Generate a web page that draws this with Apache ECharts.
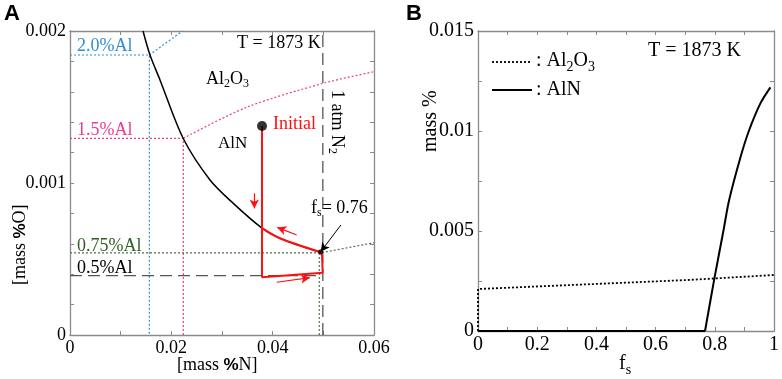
<!DOCTYPE html>
<html><head><meta charset="utf-8">
<script src="https://cdn.jsdelivr.net/npm/echarts@6/dist/echarts.min.js"></script>
<style>html,body{margin:0;padding:0;background:#fff}#c{width:782px;height:379px}</style>
</head><body><div id="c"></div>
<script>
// ---------- Panel A data ([mass %N], [mass %O]) ----------
const boundaryN = [0.01441, 0.01579, 0.01776, 0.0223, 0.02763, 0.03223, 0.0379, 0.04144, 0.04947];
const boundaryO = [0.0020, 0.001842, 0.001678, 0.001296, 0.00102, 0.000866, 0.000703, 0.000636, 0.000544];

const al20N = [0, 0.01566, 0.01566, null, 0.01566, 0.0222];
const al20O = [0.001842, 0.001842, 0, null, 0.001842, 0.0020];

const al15CurveN = [0.02237, 0.03485, 0.0500, 0.0600];
const al15CurveO = [0.001294, 0.001498, 0.001656, 0.001732];
const al15LinesN = [0, 0.02237, 0.02237];
const al15LinesO = [0.001294, 0.001294, 0];

const al075N = [0, 0.0494, 0.0600, null, 0.0492, 0.0492];
const al075O = [0.000540, 0.000540, 0.000607, null, 0.000540, 0];

const al05N = [0, 0.0498];
const al05O = [0.00039, 0.00039];

const n2N = [0.0499, 0.0499];
const n2O = [0, 0.002];

const pathN = [0.0379, 0.0379, 0.04987, 0.04975, 0.04947];
const pathO = [0.001375, 0.00038, 0.00041, 0.00052, 0.000544];
const pathCurveN = [0.0379, 0.04144, 0.04947];
const pathCurveO = [0.000703, 0.000636, 0.000544];

const initialPoint = [0.0379, 0.001375];
const fsPoint = [0.04947, 0.000548];

const xTicksA = [0, 0.06, 0.02];
const yTicksA = [0, 0.002, 0.001];

// ---------- Panel B data (fs, mass %) ----------
const fsAl2O3 = [0, 0, 0.709, 1.0];
const valAl2O3 = [0, 0.0021, 0.00255, 0.0028];
const fsAlNFlat = [0, 0.767];
const valAlNFlat = [0, 0];
const fsAlN = [0.767, 0.798, 0.829, 0.8485, 0.887, 0.915, 0.954, 0.988];
const valAlN = [0, 0.00258, 0.0050, 0.00655, 0.0087, 0.0100, 0.01138, 0.01218];

const xTicksB = [0, 1, 0.2];
const yTicksB = [0, 0.015, 0.005];

const zip = (a, b) => a.map((v, i) => (v === null ? null : [v, b[i]]));

const SERIF = 'Liberation Serif';
const GRAY = '#8a8a8a';
const BLUE = '#2f8fd0';
const PINK = '#ee3b8f';
const GREEN = '#2f5e22';
const RED = '#ff1010';

const fmt = v => String(+(+v).toFixed(5));

function axisPair(kind, ticks, fs, labels, minorSplit, grid) {
  return {
    type: 'value', gridIndex: grid, min: ticks[0], max: ticks[1], interval: ticks[2],
    position: kind === 'x' ? (labels ? 'bottom' : 'top') : (labels ? 'left' : 'right'),
    axisLine: { show: true, onZero: false, lineStyle: { color: GRAY, width: 1.3 } },
    axisTick: { show: true, inside: true, length: 4, lineStyle: { color: GRAY } },
    minorTick: { show: true, splitNumber: minorSplit, length: 4, lineStyle: { color: GRAY } },
    splitLine: { show: false },
    axisLabel: { show: labels, color: '#000', fontFamily: SERIF, fontSize: fs, margin: 4, formatter: fmt }
  };
}

const chart = echarts.init(document.getElementById('c'), null, { renderer: 'canvas' });

const dotted = (c, w) => ({ color: c, width: w || 1.2, type: [2, 2] });

const option = {
  animation: false,
  grid: [
    { left: 70, top: 31, width: 304, height: 304 },
    { left: 478, top: 31, width: 299, height: 300 }
  ],
  xAxis: [
    axisPair('x', xTicksA, 18, true, 2, 0),
    axisPair('x', xTicksA, 18, false, 2, 0),
    axisPair('x', xTicksB, 20, true, 2, 1),
    axisPair('x', xTicksB, 20, false, 2, 1)
  ],
  yAxis: [
    axisPair('y', yTicksA, 18, true, 5, 0),
    axisPair('y', yTicksA, 18, false, 5, 0),
    axisPair('y', yTicksB, 20, true, 2, 1),
    axisPair('y', yTicksB, 20, false, 2, 1)
  ],
  series: [
    { type: 'line', xAxisIndex: 0, yAxisIndex: 0, data: zip(al20N, al20O), showSymbol: false, lineStyle: dotted(BLUE), z: 2 },
    { type: 'line', xAxisIndex: 0, yAxisIndex: 0, data: zip(al15LinesN, al15LinesO), showSymbol: false, lineStyle: dotted(PINK), z: 2 },
    { type: 'line', xAxisIndex: 0, yAxisIndex: 0, data: zip(al15CurveN, al15CurveO), showSymbol: false, smooth: 0.3, lineStyle: dotted(PINK), z: 2 },
    { type: 'line', xAxisIndex: 0, yAxisIndex: 0, data: zip(al075N, al075O), showSymbol: false, lineStyle: dotted('#4f6f48'), z: 2 },
    { type: 'line', xAxisIndex: 0, yAxisIndex: 0, data: zip(al05N, al05O), showSymbol: false, lineStyle: { color: '#555', width: 1.3, type: [12, 6] }, z: 2 },
    { type: 'line', xAxisIndex: 0, yAxisIndex: 0, data: zip(n2N, n2O), showSymbol: false, lineStyle: { color: '#555', width: 1.3, type: [12, 6] }, z: 2 },
    { type: 'line', xAxisIndex: 0, yAxisIndex: 0, data: zip(boundaryN, boundaryO), showSymbol: false, smooth: 0.3, lineStyle: { color: '#000', width: 1.5 }, z: 3 },
    { type: 'line', xAxisIndex: 0, yAxisIndex: 0, data: zip(pathN, pathO), showSymbol: false, lineStyle: { color: RED, width: 2 }, z: 4 },
    { type: 'line', xAxisIndex: 0, yAxisIndex: 0, data: zip(pathCurveN, pathCurveO), showSymbol: false, smooth: 0.3, lineStyle: { color: RED, width: 2.2 }, z: 4,
      markLine: {
        silent: true, symbol: ['none', 'arrow'], symbolSize: [7, 9], label: { show: false },
        lineStyle: { color: RED, width: 1.2, type: 'solid' },
        data: [
          [{ coord: [0.03638, 0.000932] }, { coord: [0.03638, 0.000833] }],
          [{ coord: [0.04474, 0.000658] }, { coord: [0.04091, 0.000708] }],
          [{ coord: [0.04079, 0.000347] }, { coord: [0.04736, 0.000377] }],
          [{ coord: [0.05348, 0.000724], lineStyle: { color: '#000', width: 1 } }, { coord: fsPoint }]
        ]
      }
    },
    { type: 'scatter', xAxisIndex: 0, yAxisIndex: 0, data: [initialPoint], symbolSize: 10, itemStyle: { color: '#000' }, z: 5 },
    { type: 'scatter', xAxisIndex: 0, yAxisIndex: 0, data: [fsPoint], symbolSize: 5, itemStyle: { color: '#000' }, z: 5 },
    // Panel B
    { type: 'line', xAxisIndex: 2, yAxisIndex: 2, data: zip(fsAl2O3, valAl2O3), showSymbol: false, lineStyle: { color: '#000', width: 1.8, type: [2, 2] }, z: 3 },
    { type: 'line', xAxisIndex: 2, yAxisIndex: 2, data: zip(fsAlNFlat, valAlNFlat), showSymbol: false, lineStyle: { color: '#000', width: 2 }, z: 4 },
    { type: 'line', xAxisIndex: 2, yAxisIndex: 2, data: zip(fsAlN, valAlN), showSymbol: false, smooth: 0.3, lineStyle: { color: '#000', width: 2 }, z: 4 }
  ],
  graphic: []
};

function richStyle(fs) {
  return {
    n: { fontSize: fs, fontFamily: SERIF, fill: '#000', lineHeight: fs + 4, verticalAlign: 'top' },
    s: { fontSize: Math.round(fs * 0.68), fontFamily: SERIF, fill: '#000', lineHeight: fs + 4, verticalAlign: 'top', padding: [Math.round(fs * 0.47), 0, 0, 0] },
    b: { fontSize: fs - 1, fontFamily: 'Liberation Sans', fontWeight: 'bold', fill: '#000', lineHeight: fs + 4, verticalAlign: 'top', padding: [1, 0, 0, 0] }
  };
}
const t = (x, y, text, o) => Object.assign({ type: 'text', x: x, y: y, silent: true,
  style: Object.assign({ text: text, fontFamily: SERIF, fontSize: 18, fill: '#000' }, o || {}) });
const rt = (x, y, text, fs, rot) => ({ type: 'text', x: x, y: y, rotation: rot || 0, silent: true,
  style: { text: text, rich: richStyle(fs) } });

option.graphic = [
  t(4, 3, 'A', { fontFamily: 'Liberation Sans', fontWeight: 'bold', fontSize: 22 }),
  t(406, 3, 'B', { fontFamily: 'Liberation Sans', fontWeight: 'bold', fontSize: 22 }),
  t(237, 34, 'T = 1873 K'),
  rt(206, 70, '{n|Al}{s|2}{n|O}{s|3}', 18),
  t(218, 135, 'AlN', { fontSize: 17 }),
  t(273, 115, 'Initial', { fill: RED }),
  t(77, 37, '2.0%Al', { fill: BLUE }),
  t(77, 121, '1.5%Al', { fill: PINK }),
  t(77, 237, '0.75%Al', { fill: GREEN }),
  t(77, 259, '0.5%Al'),
  rt(346, 90, '{n|1 atm N}{s|2}', 18, -Math.PI / 2),
  rt(311, 199, '{n|f}{s|s}{n|= 0.76}', 18),
  rt(177, 356, '{n|[mass }{b|%}{n|N]}', 18),
  rt(11, 285, '{n|[mass }{b|%}{n|O]}', 18, Math.PI / 2),
  // Panel B texts
  { type: 'text', x: 421, y: 152, rotation: Math.PI / 2, silent: true, style: { text: 'mass %', fontFamily: SERIF, fontSize: 20, fill: '#000' } },
  rt(619, 354, '{n|f}{s|s}', 20),
  t(648, 41, 'T = 1873 K', { fontSize: 20 }),
  { type: 'line', silent: true, shape: { x1: 492, y1: 62, x2: 532, y2: 62 }, style: { stroke: '#000', lineWidth: 1.8, lineDash: [2, 2] } },
  { type: 'line', silent: true, shape: { x1: 492, y1: 90, x2: 532, y2: 90 }, style: { stroke: '#000', lineWidth: 2 } },
  rt(536, 51, '{n|: Al}{s|2}{n|O}{s|3}', 20),
  t(536, 80, ': AlN', { fontSize: 20 })
];

chart.setOption(option);
</script>
</body></html>
